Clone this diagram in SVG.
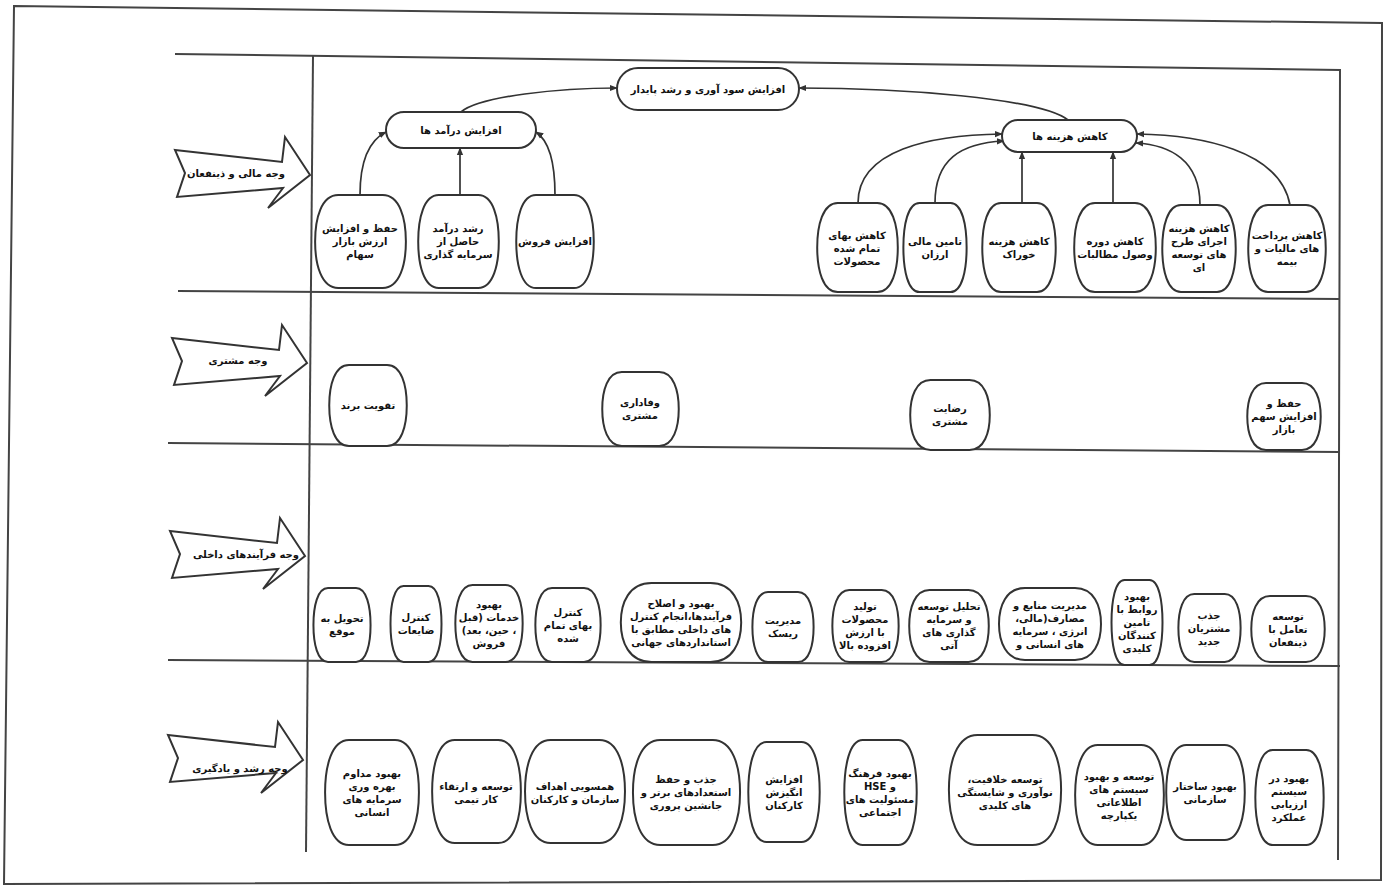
<svg xmlns="http://www.w3.org/2000/svg" xmlns:xlink="http://www.w3.org/1999/xlink" width="1389" height="895" viewBox="0 0 1389 895">
<style>
.bg{fill:#fff}
.fr{fill:none;stroke:#444;stroke-width:2}
.nd{fill:#fff;stroke:#333;stroke-width:2}
.tg{fill:#fff;stroke:#333;stroke-width:2;stroke-linejoin:miter}
.cn{fill:none;stroke:#333;stroke-width:1.7;marker-end:url(#ah)}
.t{font-family:"DejaVu Sans","Noto Sans",sans-serif;font-size:10px;font-weight:bold;fill:#111;text-anchor:middle;direction:rtl}
</style>
<defs>
<marker id="ah" viewBox="0 0 10 10" refX="9" refY="5" markerUnits="userSpaceOnUse" markerWidth="8" markerHeight="8" orient="auto"><path d="M0 1 L10 5 L0 9 Z" fill="#333"/></marker>
<path id="barrel" d="M25 0 L75 0 C94 0 101 25 101 50 C101 75 94 100 75 100 L25 100 C6 100 -1 75 -1 50 C-1 25 6 0 25 0 Z" vector-effect="non-scaling-stroke"/>
<polygon id="tag" points="0,13 107,25 110,0 135,38 93,71 108,51 2,60 10,36"/>
</defs>
<rect class="bg" x="0" y="0" width="1389" height="895"/>
<g id="frame">
<path class="fr" d="M14 6 L1382 23 L1381 880 L4 884 Z"/>
<path class="fr" d="M175 54 L1340 70 L1338 860"/>
<path class="fr" d="M313 56 L306 852"/>
<path class="fr" d="M178 291 L1340 299"/>
<path class="fr" d="M168 443 L1340 452"/>
<path class="fr" d="M168 660 L1340 666"/>
</g>
<g id="perspectives">
<g id="p-financial"><use href="#tag" class="tg" transform="translate(175,137)"/><text class="t" x="236" y="177">وجه مالی و ذینفعان</text></g>
<g id="p-customer"><use href="#tag" class="tg" transform="translate(172,325)"/><text class="t" x="238" y="364">وجه مشتری</text></g>
<g id="p-internal"><use href="#tag" class="tg" transform="translate(170,518)"/><text class="t" x="246" y="558">وجه فرآیندهای داخلی</text></g>
<g id="p-learning"><use href="#tag" class="tg" transform="translate(168,722)"/><text class="t" x="240" y="772">وجه رشد و یادگیری</text></g>
</g>
<g id="connectors">
<path class="cn" d="M461 112 C480 96 560 88 617 88"/>
<path class="cn" d="M1068 120 C1040 98 900 88 799 88"/>
<path class="cn" d="M360 195 C360 160 370 140 386 132"/>
<path class="cn" d="M460 195 L460 148"/>
<path class="cn" d="M555 195 C555 160 548 140 536 132"/>
<path class="cn" d="M858 203 C858 150 930 135 1002 134"/>
<path class="cn" d="M935 203 C935 160 960 143 1004 141"/>
<path class="cn" d="M1022 203 L1022 152"/>
<path class="cn" d="M1113 203 L1113 152"/>
<path class="cn" d="M1200 205 C1200 160 1170 145 1136 143"/>
<path class="cn" d="M1290 205 C1280 150 1200 135 1137 134"/>
</g>
<g id="financial">
<g id="f-top"><rect class="nd" x="617" y="68" width="182" height="42" rx="21"/><text class="t" x="708" y="93">افزایش سود آوری و رشد پایدار</text></g>
<g id="f-rev"><rect class="nd" x="386" y="112" width="150" height="36" rx="18"/><text class="t" x="461" y="134">افزایش درآمد ها</text></g>
<g id="f-cost"><rect class="nd" x="1002" y="120" width="135" height="32" rx="16"/><text class="t" x="1070" y="140">کاهش هزینه ها</text></g>
<g id="f-r1"><use href="#barrel" class="nd" transform="translate(316,195) scale(0.89,0.93)"/><text class="t" x="360" y="232">حفظ و افزایش<tspan x="360" dy="13">ارزش بازار</tspan><tspan x="360" dy="13">سهام</tspan></text></g>
<g id="f-r2"><use href="#barrel" class="nd" transform="translate(419,195) scale(0.79,0.93)"/><text class="t" x="458" y="232">رشد درآمد<tspan x="458" dy="13">حاصل از</tspan><tspan x="458" dy="13">سرمایه گذاری</tspan></text></g>
<g id="f-r3"><use href="#barrel" class="nd" transform="translate(517,195) scale(0.76,0.93)"/><text class="t" x="555" y="245">افزایش فروش</text></g>
<g id="f-c1"><use href="#barrel" class="nd" transform="translate(818,203) scale(0.79,0.89)"/><text class="t" x="857" y="239">کاهش بهای<tspan x="857" dy="13">تمام شده</tspan><tspan x="857" dy="13">محصولات</tspan></text></g>
<g id="f-c2"><use href="#barrel" class="nd" transform="translate(904,203) scale(0.62,0.89)"/><text class="t" x="935" y="245">تامین مالی<tspan x="935" dy="13">ارزان</tspan></text></g>
<g id="f-c3"><use href="#barrel" class="nd" transform="translate(983,203) scale(0.72,0.89)"/><text class="t" x="1019" y="245">کاهش هزینه<tspan x="1019" dy="13">خوراک</tspan></text></g>
<g id="f-c4"><use href="#barrel" class="nd" transform="translate(1075,203) scale(0.80,0.89)"/><text class="t" x="1115" y="245">کاهش دوره<tspan x="1115" dy="13">وصول مطالبات</tspan></text></g>
<g id="f-c5"><use href="#barrel" class="nd" transform="translate(1163,205) scale(0.72,0.87)"/><text class="t" x="1199" y="232">کاهش هزینه<tspan x="1199" dy="13">اجرای طرح</tspan><tspan x="1199" dy="13">های توسعه</tspan><tspan x="1199" dy="13">ای</tspan></text></g>
<g id="f-c6"><use href="#barrel" class="nd" transform="translate(1249,205) scale(0.76,0.87)"/><text class="t" x="1287" y="239">کاهش پرداخت<tspan x="1287" dy="13">های مالیات و</tspan><tspan x="1287" dy="13">بیمه</tspan></text></g>
</g>
<g id="customer">
<g id="c1"><use href="#barrel" class="nd" transform="translate(330,365) scale(0.76,0.81)"/><text class="t" x="368" y="409">تقویت برند</text></g>
<g id="c2"><use href="#barrel" class="nd" transform="translate(603,372) scale(0.75,0.74)"/><text class="t" x="640" y="406">وفاداری<tspan x="640" dy="13">مشتری</tspan></text></g>
<g id="c3"><use href="#barrel" class="nd" transform="translate(911,380) scale(0.78,0.70)"/><text class="t" x="950" y="412">رضایت<tspan x="950" dy="13">مشتری</tspan></text></g>
<g id="c4"><use href="#barrel" class="nd" transform="translate(1248,383) scale(0.72,0.67)"/><text class="t" x="1284" y="407">حفظ و<tspan x="1284" dy="13">افزایش سهم</tspan><tspan x="1284" dy="13">بازار</tspan></text></g>
</g>
<g id="internal">
<g id="i1"><use href="#barrel" class="nd" transform="translate(314,588) scale(0.56,0.74)"/><text class="t" x="342" y="622">تحویل به<tspan x="342" dy="13">موقع</tspan></text></g>
<g id="i2"><use href="#barrel" class="nd" transform="translate(391,586) scale(0.50,0.76)"/><text class="t" x="416" y="621">کنترل<tspan x="416" dy="13">ضایعات</tspan></text></g>
<g id="i3"><use href="#barrel" class="nd" transform="translate(456,585) scale(0.66,0.77)"/><text class="t" x="489" y="608">بهبود<tspan x="489" dy="13">خدمات (قبل</tspan><tspan x="489" dy="13">، حین، بعد)</tspan><tspan x="489" dy="13">فروش</tspan></text></g>
<g id="i4"><use href="#barrel" class="nd" transform="translate(536,588) scale(0.64,0.74)"/><text class="t" x="568" y="616">کنترل<tspan x="568" dy="13">بهای تمام</tspan><tspan x="568" dy="13">شده</tspan></text></g>
<g id="i5"><use href="#barrel" class="nd" transform="translate(622,583) scale(1.18,0.79)"/><text class="t" x="681" y="607">بهبود و اصلاح<tspan x="681" dy="13">فرآیندها،انجام کنترل</tspan><tspan x="681" dy="13">های داخلی مطابق با</tspan><tspan x="681" dy="13">استانداردهای جهانی</tspan></text></g>
<g id="i6"><use href="#barrel" class="nd" transform="translate(753,592) scale(0.60,0.70)"/><text class="t" x="783" y="624">مدیریت<tspan x="783" dy="13">ریسک</tspan></text></g>
<g id="i7"><use href="#barrel" class="nd" transform="translate(833,590) scale(0.65,0.72)"/><text class="t" x="865" y="610">تولید<tspan x="865" dy="13">محصولات</tspan><tspan x="865" dy="13">با ارزش</tspan><tspan x="865" dy="13">افزوده بالا</tspan></text></g>
<g id="i8"><use href="#barrel" class="nd" transform="translate(910,590) scale(0.78,0.72)"/><text class="t" x="949" y="610">تحلیل توسعه<tspan x="949" dy="13">و سرمایه</tspan><tspan x="949" dy="13">گذاری های</tspan><tspan x="949" dy="13">آتی</tspan></text></g>
<g id="i9"><use href="#barrel" class="nd" transform="translate(1000,588) scale(1.0,0.72)"/><text class="t" x="1050" y="609">مدیریت منابع و<tspan x="1050" dy="13">مصارف(مالی،</tspan><tspan x="1050" dy="13">انرژی ، سرمایه</tspan><tspan x="1050" dy="13">های انسانی و</tspan></text></g>
<g id="i10"><use href="#barrel" class="nd" transform="translate(1112,580) scale(0.50,0.85)"/><text class="t" x="1137" y="600">بهبود<tspan x="1137" dy="13">روابط با</tspan><tspan x="1137" dy="13">تامین</tspan><tspan x="1137" dy="13">کنندگان</tspan><tspan x="1137" dy="13">کلیدی</tspan></text></g>
<g id="i11"><use href="#barrel" class="nd" transform="translate(1179,594) scale(0.61,0.68)"/><text class="t" x="1209" y="619">جذب<tspan x="1209" dy="13">مشتریان</tspan><tspan x="1209" dy="13">جدید</tspan></text></g>
<g id="i12"><use href="#barrel" class="nd" transform="translate(1252,596) scale(0.72,0.66)"/><text class="t" x="1288" y="620">توسعه<tspan x="1288" dy="13">تعامل با</tspan><tspan x="1288" dy="13">ذینفعان</tspan></text></g>
</g>
<g id="learning">
<g id="l1"><use href="#barrel" class="nd" transform="translate(326,740) scale(0.92,1.05)"/><text class="t" x="372" y="777">بهبود مداوم<tspan x="372" dy="13">بهره وری</tspan><tspan x="372" dy="13">سرمایه های</tspan><tspan x="372" dy="13">انسانی</tspan></text></g>
<g id="l2"><use href="#barrel" class="nd" transform="translate(433,740) scale(0.87,1.03)"/><text class="t" x="476" y="790">توسعه و ارتقاء<tspan x="476" dy="13">کار تیمی</tspan></text></g>
<g id="l3"><use href="#barrel" class="nd" transform="translate(526,740) scale(0.98,1.03)"/><text class="t" x="575" y="790">همسویی اهداف<tspan x="575" dy="13">سازمان و کارکنان</tspan></text></g>
<g id="l4"><use href="#barrel" class="nd" transform="translate(634,740) scale(1.05,1.05)"/><text class="t" x="686" y="783">جذب و حفظ<tspan x="686" dy="13">استعدادهای برتر و</tspan><tspan x="686" dy="13">جانشین پروری</tspan></text></g>
<g id="l5"><use href="#barrel" class="nd" transform="translate(749,742) scale(0.70,1.0)"/><text class="t" x="784" y="783">افزایش<tspan x="784" dy="13">انگیزش</tspan><tspan x="784" dy="13">کارکنان</tspan></text></g>
<g id="l6"><use href="#barrel" class="nd" transform="translate(845,740) scale(0.71,1.05)"/><text class="t" x="880" y="777">بهبود فرهنگ<tspan x="880" dy="13">و HSE</tspan><tspan x="880" dy="13">مسئولیت های</tspan><tspan x="880" dy="13">اجتماعی</tspan></text></g>
<g id="l7"><use href="#barrel" class="nd" transform="translate(950,735) scale(1.10,1.10)"/><text class="t" x="1005" y="783">توسعه خلاقیت،<tspan x="1005" dy="13">نوآوری و شایستگی</tspan><tspan x="1005" dy="13">های کلیدی</tspan></text></g>
<g id="l8"><use href="#barrel" class="nd" transform="translate(1076,745) scale(0.87,1.0)"/><text class="t" x="1119" y="780">توسعه و بهبود<tspan x="1119" dy="13">سیستم های</tspan><tspan x="1119" dy="13">اطلاعاتی</tspan><tspan x="1119" dy="13">یکپارچه</tspan></text></g>
<g id="l9"><use href="#barrel" class="nd" transform="translate(1167,745) scale(0.77,0.95)"/><text class="t" x="1205" y="790">بهبود ساختار<tspan x="1205" dy="13">سازمانی</tspan></text></g>
<g id="l10"><use href="#barrel" class="nd" transform="translate(1256,750) scale(0.67,0.95)"/><text class="t" x="1289" y="782">بهبود در<tspan x="1289" dy="13">سیستم</tspan><tspan x="1289" dy="13">ارزیابی</tspan><tspan x="1289" dy="13">عملکرد</tspan></text></g>
</g>
</svg>
